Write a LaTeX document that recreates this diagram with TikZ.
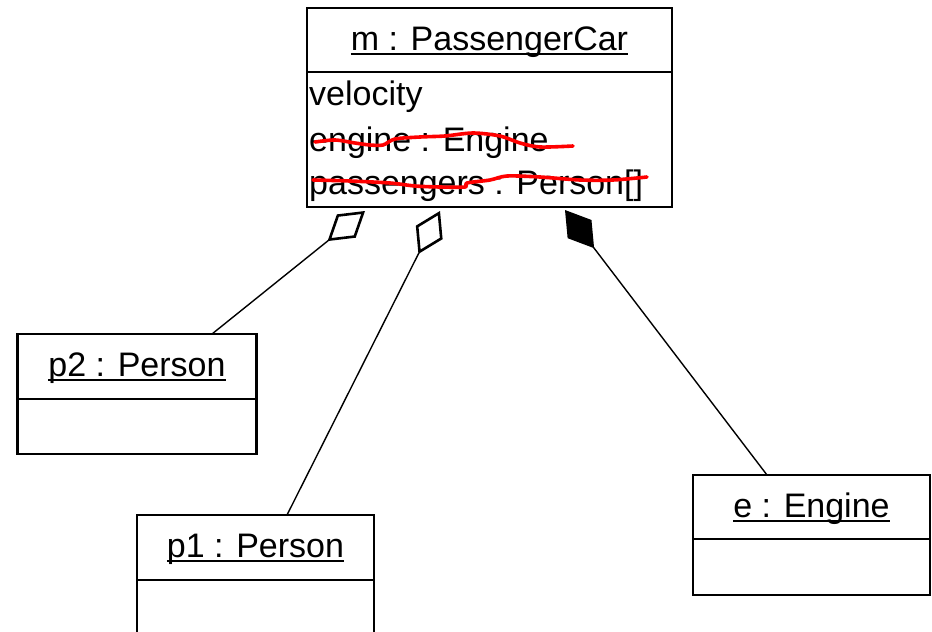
\documentclass[tikz,border=0pt]{standalone}
\usepackage{fontspec}
\setmainfont{Liberation Sans}
\usetikzlibrary{arrows.meta,positioning}
\newlength\ulw
\newcommand\umlname[1]{\settowidth{\ulw}{#1}\rlap{\rule[-4.5pt]{\ulw}{2pt}}#1}
\tikzset{
  x=1pt, y=-1pt,
  every node/.style={font=\fontsize{34}{40}\selectfont},
  objhead/.style={draw, line width=2.8pt, rectangle, outer sep=0pt, inner sep=0pt,
    text height=26pt, text depth=6pt},
  objbody/.style={draw, line width=2.8pt, rectangle, outer sep=0pt, inner sep=0pt},
  attr/.style={anchor=base west, inner sep=0pt},
  strike/.style={draw=red, line width=3.6pt, line cap=round, line join=round},
  agg/.style={line width=1.4pt, {Diamond[open, length=48pt, width=30pt, line width=2.6pt]}-},
  comp/.style={line width=1.4pt, {Diamond[fill=black, length=48pt, width=30pt, line width=2.6pt]}-},
}
\begin{document}
\begin{tikzpicture}
\useasboundingbox (0,0) rectangle (932,632);
% main object
\node[objhead, minimum width=365pt, minimum height=64pt] (mh) at (489.5,40) {\umlname{m : PassengerCar}};
\node[objbody, minimum width=365pt, minimum height=135pt, below=0pt of mh] (mb) {};
\node[attr] (a1) at (309,105) {velocity};
\node[attr] (a2) at (309,151) {engine : Engine};
\node[attr] (a3) at (309,194) {passengers : Person[]};
% strike-throughs
\draw[strike] plot[smooth, tension=0.5] coordinates {(315,142) (335,140) (355,143) (370,145) (383,145) (395,139) (420,137) (445,136) (473,133) (500,136) (520,143) (540,147) (573,146)};
\draw[strike] plot[smooth, tension=0.5] coordinates {(313,180) (350,181) (390,183) (415,186) (440,187) (465,187) (467,183) (490,180) (507,176) (540,177) (580,180) (613,180) (647,177)};
% p2
\node[objhead, minimum width=239pt, minimum height=65pt] (p2h) at (137,366.5) {\umlname{p2 : Person}};
\node[objbody, minimum width=239pt, minimum height=55pt, below=0pt of p2h] (p2b) {};
% p1
\node[objhead, minimum width=237pt, minimum height=65pt] (p1h) at (255.5,547.5) {\umlname{p1 : Person}};
\node[objbody, minimum width=237pt, minimum height=70pt, below=0pt of p1h] (p1b) {};
% e
\node[objhead, minimum width=237pt, minimum height=64pt] (eh) at (811.5,507) {\umlname{e : Engine}};
\node[objbody, minimum width=237pt, minimum height=56pt, below=0pt of eh] (eb) {};
% connector ends at the main object
\coordinate (d1) at ([xshift=58pt, yshift=-4pt]mb.south west);
\coordinate (d2) at ([xshift=133pt, yshift=-4pt]mb.south west);
\coordinate (d3) at ([xshift=258pt, yshift=-3pt]mb.south west);
% connectors
\draw[agg] (d1) -- ([xshift=194.5pt]p2h.north west);
\draw[agg] (d2) -- ([xshift=150pt]p1h.north west);
\draw[comp] (d3) -- ([xshift=74pt]eh.north west);
\end{tikzpicture}
\end{document}
